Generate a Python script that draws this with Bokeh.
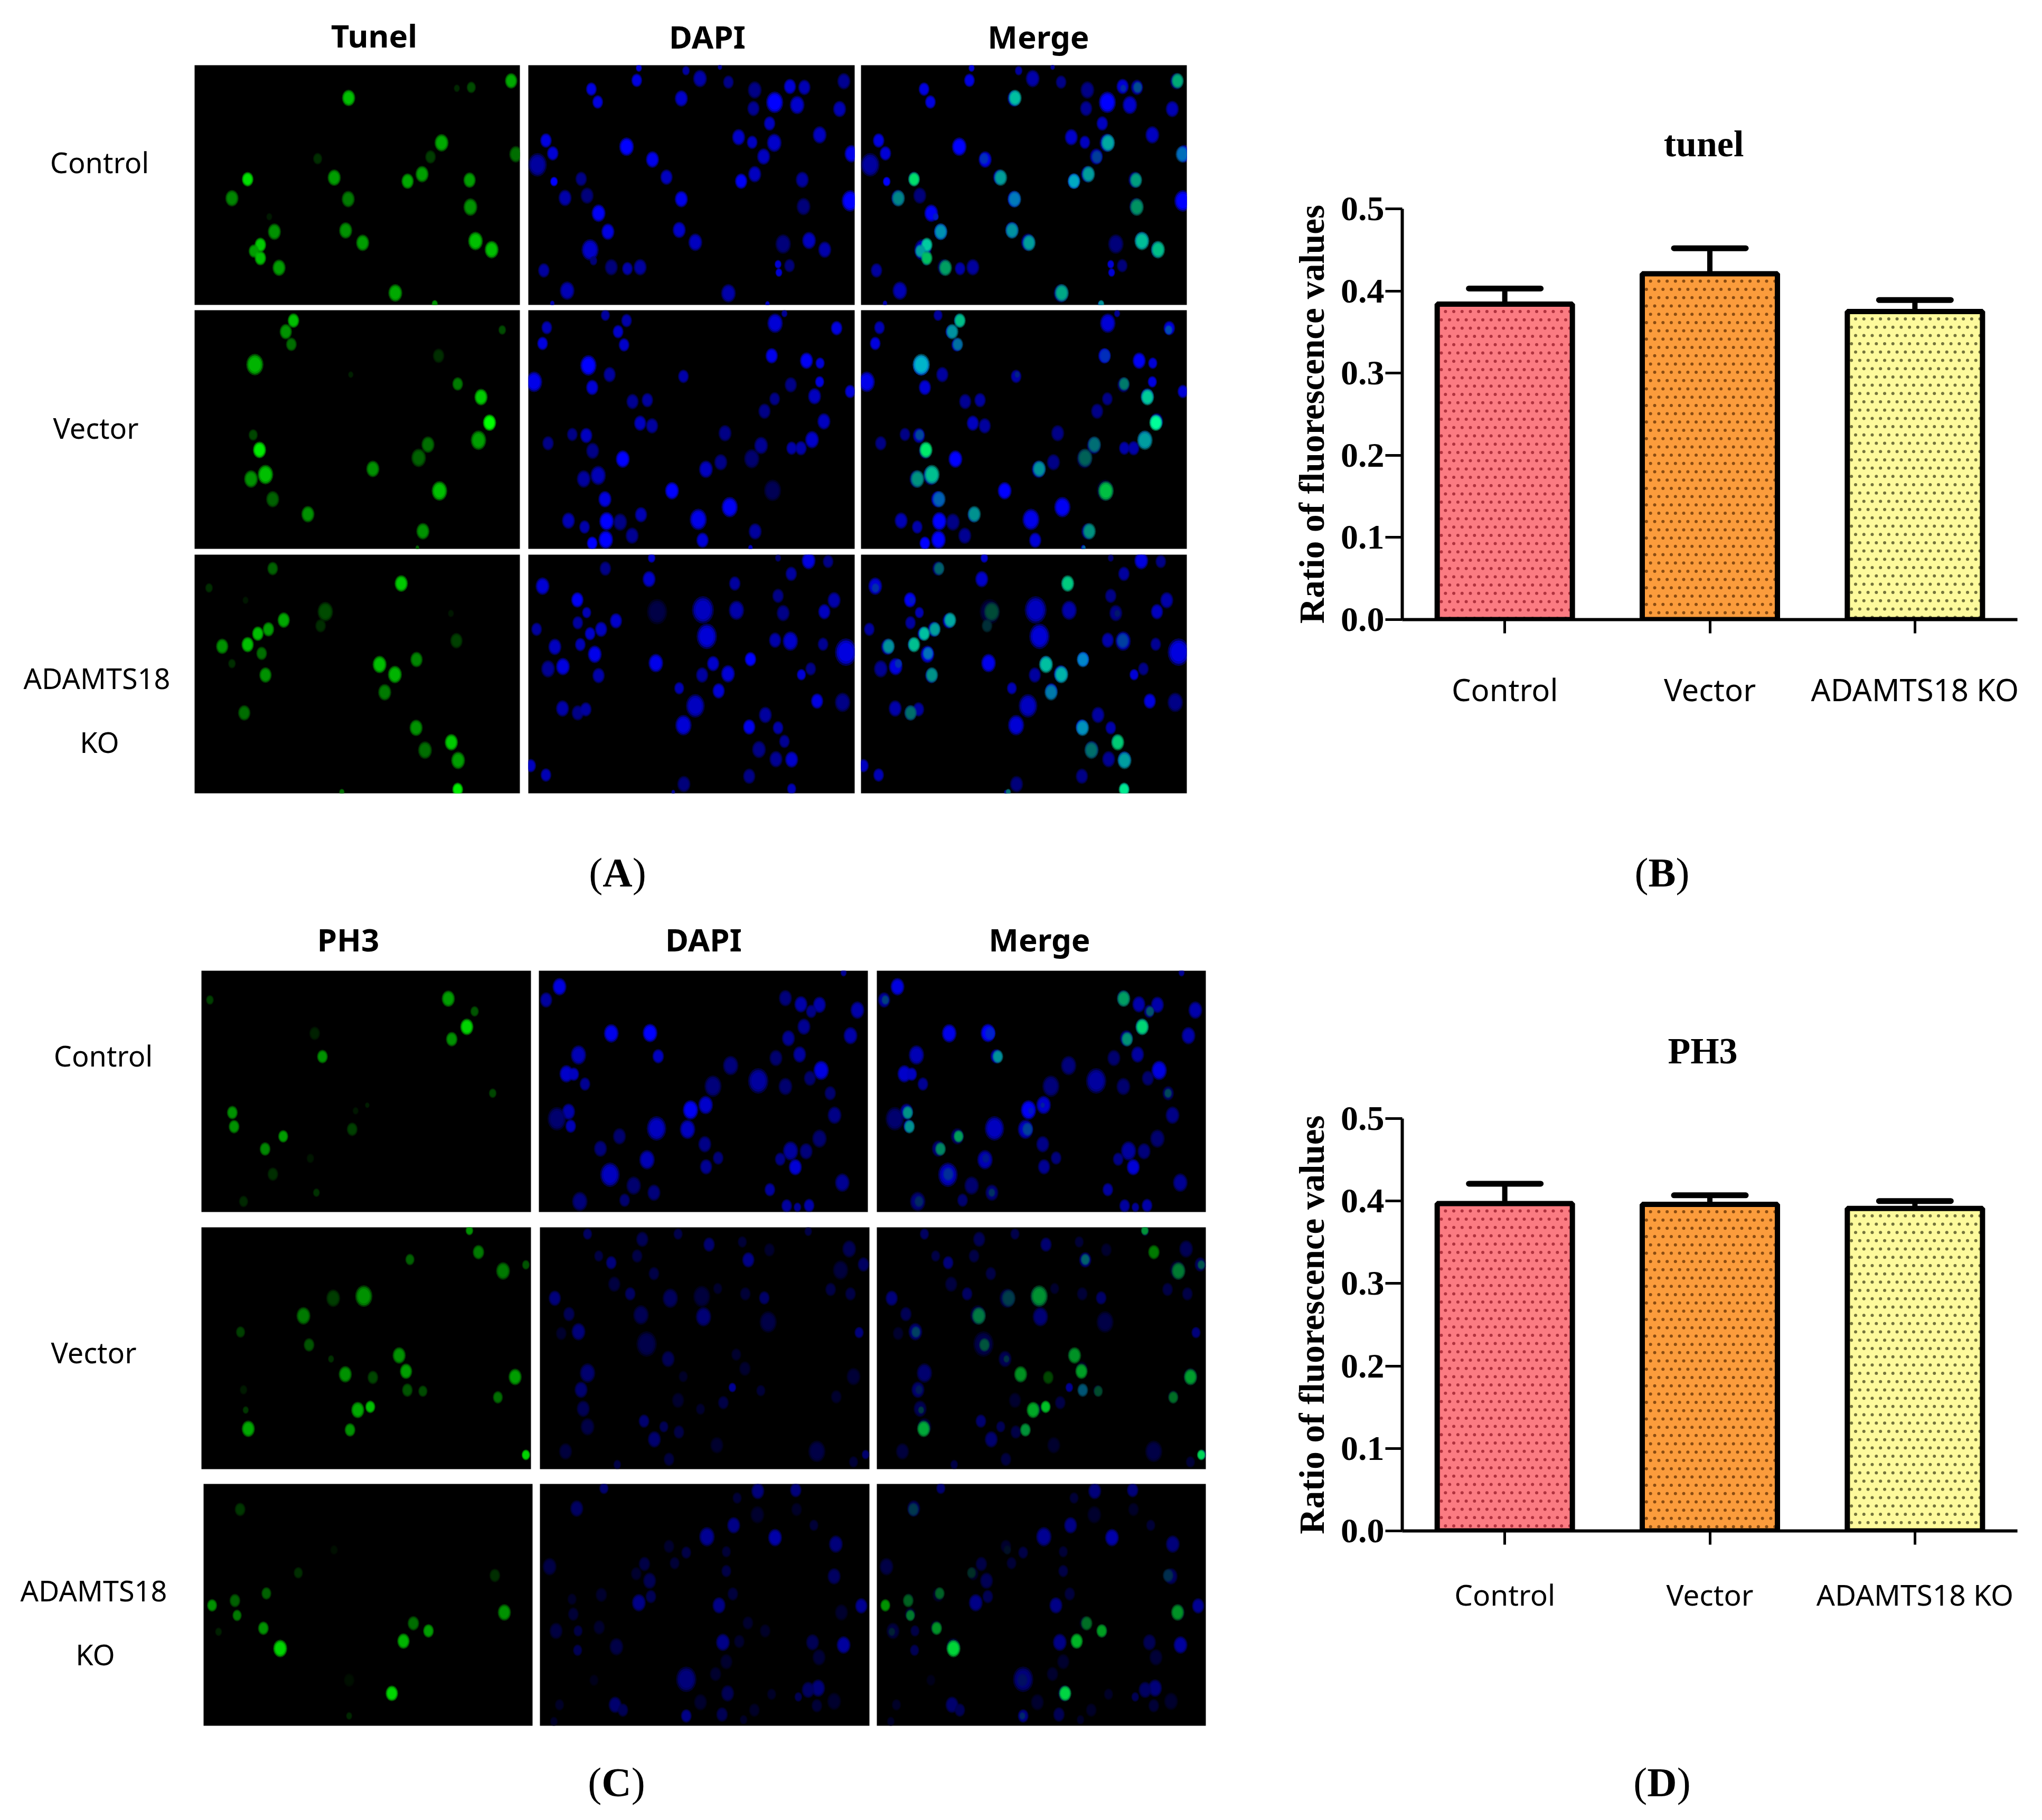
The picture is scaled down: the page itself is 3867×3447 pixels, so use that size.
from bokeh.plotting import figure
from bokeh.models import ColumnDataSource, FixedTicker, Range1d
from bokeh.layouts import row, column
from bokeh.core.properties import value
from bokeh.embed import file_html
from bokeh.resources import INLINE
import numpy as np

# bar chart values
groups = ["Control", "Vector", "ADAMTS18 KO"]
tunel_mean = [0.384, 0.421, 0.375]
tunel_upper = [0.403, 0.452, 0.389]
ph3_mean = [0.397, 0.396, 0.391]
ph3_upper = [0.421, 0.407, 0.400]
bar_colors = ["#fb7b82", "#fb9c3c", "#fdfa9c"]
dot_colors = ["#b0323e", "#8a4c12", "#74743c"]

# nuclei seen in each micrograph: (x, y, height, brightness), in crop units
tunel_control = [(373,195,85,.7),(756,98,80,.6),(662,135,60,.22),(628,140,40,.1),(592,450,90,.6),(566,530,70,.17),(767,515,85,.35),(300,540,60,.12),(135,657,75,.85),(339,648,85,.55),(546,628,85,.55),(512,668,80,.6),(658,662,80,.55),(98,765,85,.45),(372,770,85,.4),(660,815,90,.5),(198,955,85,.5),(366,948,85,.5),(406,1018,85,.55),(672,1008,95,.7),(710,1057,90,.7),(165,1030,75,.75),(150,1065,70,.55),(165,1105,75,.7),(209,1160,85,.55),(483,1303,90,.6),(576,1365,40,.5),(186,870,40,.06)]
tunel_control_dapi = [(1057,25,40,.8),(1168,40,50,.55),(1248,20,30,.5),(1052,95,70,.85),(1201,85,90,.6),(1268,105,70,.45),(945,145,70,.85),(1330,150,90,.45),(1413,130,80,.8),(1447,135,80,.65),(1540,100,85,.5),(960,218,70,.85),(1157,198,85,.75),(1377,220,110,1),(1430,235,95,.75),(1327,255,80,.5),(1530,258,85,.65),(1365,340,75,.7),(1483,405,90,.7),(1292,418,85,.75),(838,437,75,.85),(1324,447,70,.7),(1376,450,95,.75),(1028,472,95,1),(854,510,75,.8),(1558,512,90,.9),(1351,528,85,.7),(1089,545,85,.9),(818,575,120,.55),(1330,628,85,.7),(1122,645,80,.7),(1442,660,85,.55),(921,655,75,.45),(857,670,50,1),(1298,668,80,.95),(883,763,85,.6),(935,750,85,.4),(1157,770,85,.9),(1445,812,90,.4),(1555,780,110,1),(962,850,90,.95),(984,955,85,.85),(1152,945,85,.75),(1190,1015,90,.7),(1458,1005,90,.7),(1397,1025,100,.4),(1495,1057,85,.6),(942,1058,110,.75),(950,1120,50,.4),(992,1157,85,.4),(1030,1165,70,.6),(1060,1157,85,.55),(1385,1140,45,.8),(1412,1148,70,.4),(1387,1187,45,.8),(833,1175,75,.55),(888,1290,95,.65),(1268,1305,95,.6),(1360,1365,30,.7),(853,1362,30,.6)]
tunel_vector = [(243,65,75,.7),(225,128,80,.5),(238,200,70,.35),(735,118,50,.22),(152,315,110,.65),(585,265,75,.12),(378,372,35,.08),(630,425,70,.4),(685,500,85,.75),(705,645,85,1),(148,715,60,.2),(679,745,100,.55),(163,800,85,.9),(560,770,85,.35),(538,845,95,.3),(430,908,85,.5),(177,940,100,.7),(143,965,90,.5),(194,1080,85,.3),(587,1033,100,.7),(277,1165,85,.5),(548,1262,85,.5),(535,1355,25,.3)]
tunel_vector_dapi = [(978,35,60,.55),(1400,25,40,.5),(1028,65,70,.6),(1378,80,100,.8),(840,105,70,.65),(1523,108,75,.85),(1008,128,70,.75),(830,195,70,.85),(1022,203,70,.75),(1370,265,80,.9),(938,320,105,1),(1452,293,85,.95),(1484,307,60,.8),(988,372,80,.55),(1162,382,70,.6),(810,413,105,.9),(1483,413,60,.85),(1415,430,80,.45),(947,445,80,.8),(1555,468,70,.8),(1471,495,85,.7),(1377,510,70,.45),(1042,525,80,.5),(1077,517,75,.55),(1353,580,80,.45),(1493,638,85,.7),(1060,648,80,.7),(1088,663,80,.55),(1260,705,85,.45),(900,712,70,.45),(933,718,80,.7),(843,762,75,.45),(1465,742,90,.75),(1345,775,90,.5),(1417,790,70,.6),(1439,790,75,.6),(948,805,85,.45),(1323,850,100,.35),(1019,852,90,1),(1250,870,85,.45),(1215,910,90,.7),(961,945,100,.65),(927,965,90,.55),(1372,1030,110,.25),(1135,1032,90,1),(977,1080,85,.85),(1271,1125,105,.95),(1197,1195,110,.9),(1062,1168,80,.65),(891,1202,85,.65),(981,1205,95,1),(1013,1210,90,.45),(929,1238,70,.6),(1041,1287,85,.5),(1331,1263,85,.55),(979,1310,95,1),(1207,1313,80,.8),(947,1330,70,1),(1320,1355,30,.7)]
tunel_ko = [(194,85,70,.3),(497,170,85,.75),(44,195,50,.12),(130,265,40,.05),(318,330,100,.22),(220,378,80,.6),(307,410,70,.12),(184,430,75,.55),(159,455,75,.7),(135,517,80,.7),(75,527,80,.5),(627,495,80,.18),(168,567,70,.35),(98,625,50,.12),(533,602,80,.45),(446,630,90,.7),(177,690,80,.5),(482,687,90,.65),(458,788,85,.4),(127,905,80,.35),(532,990,85,.5),(553,1117,90,.35),(615,1072,85,.75),(631,1175,90,.55),(630,1340,70,.9),(357,1355,35,.35),(614,340,40,.05)]
tunel_ko_dapi = [(1087,25,50,.75),(1457,40,90,.85),(1503,45,70,.45),(1385,25,40,.35),(978,85,75,.45),(1416,115,75,.55),(1081,145,85,.75),(1283,170,75,.55),(830,185,90,.8),(912,263,80,.95),(1385,240,75,.45),(1517,265,85,.6),(1208,320,140,.7),(1100,330,130,.2),(1287,322,100,.6),(1397,338,85,.45),(1494,330,80,.7),(934,335,60,.65),(1003,382,80,.75),(913,393,70,.55),(816,430,70,.55),(968,430,80,.7),(942,455,70,.75),(1217,470,130,.8),(1378,492,80,.6),(1414,497,100,.75),(1491,515,70,.5),(859,530,85,.7),(919,517,70,.65),(953,572,90,.9),(1545,560,140,.85),(1097,622,95,.9),(1320,600,75,1),(1232,625,80,.75),(878,642,90,.85),(843,655,90,.5),(1267,683,90,.8),(1462,655,70,.45),(1440,688,60,.8),(1206,690,80,.55),(962,693,80,.6),(1152,765,65,.65),(1245,780,80,.8),(1190,865,120,.7),(1537,845,100,.45),(1477,838,80,.85),(877,880,85,.6),(913,905,80,.45),(932,885,75,.55),(1355,917,85,.55),(1162,975,105,.8),(1317,985,80,.9),(1385,990,70,.6),(1400,1067,70,.5),(1340,1113,90,.45),(1380,1168,85,.5),(1417,1170,85,.75),(802,1205,70,.7),(838,1258,70,.65),(1317,1265,80,.45),(1163,1310,85,.4),(1417,1337,60,.65),(1138,1355,25,.5)]
ph3_control = [(27,190,50,.18),(580,183,85,.55),(641,255,55,.25),(623,343,85,.8),(588,413,75,.5),(270,380,70,.08),(288,512,70,.5),(683,720,50,.2),(392,788,30,.07),(79,830,70,.5),(83,910,70,.5),(357,925,70,.18),(197,965,65,.55),(155,1037,70,.45),(173,1180,70,.12),(260,1090,50,.05),(274,1285,45,.13),(105,1335,60,.1),(365,820,40,.05)]
ph3_control_dapi = [(1497,35,40,.5),(838,115,90,.85),(807,190,80,.55),(1362,180,85,.4),(1398,215,85,.6),(1441,218,85,.6),(1422,255,70,.45),(1529,248,90,.6),(1405,342,85,.5),(958,380,95,.9),(1048,378,95,1),(1369,408,85,.5),(1513,393,90,.6),(882,503,100,.65),(1067,510,75,.7),(1395,500,85,.55),(1340,520,85,.35),(1235,563,100,.4),(1445,590,100,.85),(854,610,90,.75),(871,612,70,.7),(1299,650,130,.55),(1419,635,80,.35),(897,668,70,.5),(1194,680,110,.4),(1362,682,90,.35),(1466,720,75,.35),(1177,787,95,.75),(1142,815,100,.95),(859,825,85,.6),(832,865,120,.35),(1476,845,90,.45),(864,907,70,.65),(1063,920,125,.7),(1135,925,100,.7),(977,965,85,.35),(1441,978,95,.35),(1175,1010,85,.45),(933,1035,85,.4),(1374,1048,100,.55),(1410,1050,85,.4),(1041,1098,100,.65),(1206,1088,70,.4),(1350,1095,70,.45),(1385,1140,85,.8),(1178,1138,80,.5),(955,1183,125,.7),(1010,1245,95,.35),(1494,1228,95,.5),(1057,1285,85,.4),(1326,1268,70,.55),(885,1335,100,.4),(989,1328,70,.35),(1365,1360,70,.55),(1390,1368,50,.5),(1417,1358,70,.6)]
ph3_vector = [(629,45,50,.5),(650,168,75,.4),(491,210,60,.3),(760,240,50,.25),(707,275,90,.4),(384,418,110,.5),(313,430,90,.17),(244,530,90,.4),(98,622,60,.18),(257,695,70,.25),(308,775,40,.13),(466,755,85,.5),(341,862,85,.5),(482,845,80,.55),(405,880,70,.2),(735,877,85,.55),(485,952,70,.25),(521,958,60,.22),(695,993,65,.35),(370,1065,85,.6),(399,1047,65,.7),(110,1065,40,.15),(116,1172,85,.6),(352,1178,70,.5),(760,1320,55,.8),(105,950,50,.06)]
ph3_vector_dapi = [(903,65,60,.3),(1030,95,80,.25),(1113,65,60,.22),(1185,125,75,.35),(1262,110,60,.15),(1415,50,50,.2),(1510,150,90,.25),(929,190,60,.2),(958,228,70,.4),(1018,190,70,.2),(1276,212,80,.45),(1325,155,70,.12),(1543,238,75,.3),(1490,270,100,.17),(1057,290,70,.2),(965,350,80,.18),(1205,375,60,.12),(827,430,80,.4),(1002,405,70,.3),(1095,430,100,.28),(1168,420,110,.17),(1269,405,70,.15),(1313,428,70,.32),(1467,380,70,.2),(1513,405,70,.2),(860,520,75,.25),(1027,525,100,.25),(1172,535,100,.38),(1322,565,110,.2),(882,620,90,.4),(842,630,70,.12),(1533,625,60,.4),(1040,690,130,.22),(1090,775,85,.25),(1248,750,65,.12),(903,855,100,.35),(1268,830,75,.12),(1125,875,60,.1),(1520,875,90,.15),(888,950,85,.35),(1239,937,50,.5),(1305,955,60,.15),(1480,990,70,.12),(1113,1010,80,.12),(893,1058,85,.25),(1218,1023,70,.2),(1165,1060,60,.12),(1034,1128,70,.35),(903,1160,90,.2),(1080,1160,60,.25),(1115,1190,70,.2),(1058,1232,85,.35),(1203,1265,85,.12),(852,1300,85,.17),(1435,1300,110,.2),(1092,1345,70,.18),(1548,1318,50,.35),(972,1375,50,.2),(1520,1360,60,.15)]
ph3_ko = [(97,160,70,.15),(315,390,50,.03),(232,520,60,.12),(688,535,70,.12),(158,637,65,.3),(85,678,70,.3),(32,705,65,.5),(90,762,60,.4),(710,745,85,.5),(499,807,75,.35),(151,835,70,.5),(534,850,70,.55),(47,855,45,.08),(476,908,80,.65),(190,950,90,.8),(449,1205,80,.8),(350,1333,40,.1),(350,1130,70,.03)]
ph3_ko_dapi = [(941,40,60,.35),(1298,55,85,.4),(1386,50,75,.4),(878,155,85,.3),(1250,95,60,.15),(1297,190,90,.12),(1388,160,70,.1),(1242,250,85,.45),(1428,250,60,.15),(1180,315,100,.5),(1338,320,90,.6),(1479,357,90,.4),(1092,370,70,.12),(1132,405,65,.2),(1225,400,60,.15),(1105,465,65,.15),(1035,470,75,.2),(815,485,90,.2),(1225,510,65,.2),(1016,525,70,.12),(1047,565,85,.25),(1475,540,85,.3),(1240,640,70,.17),(935,645,75,.12),(1050,655,70,.25),(1022,690,90,.45),(1208,705,85,.45),(1538,708,80,.5),(867,670,60,.1),(1492,745,85,.12),(870,755,70,.15),(1275,805,70,.12),(830,850,85,.18),(881,850,60,.2),(930,830,75,.12),(1315,850,70,.1),(1217,915,90,.45),(1255,910,70,.12),(1425,915,85,.25),(1497,930,90,.55),(970,940,90,.2),(880,960,60,.25),(1440,1000,85,.15),(1225,1025,80,.12),(1200,1095,75,.12),(1132,1125,130,.4),(918,1130,60,.06),(1438,1175,90,.4),(1415,1185,85,.3),(1228,1205,85,.25),(1330,1210,60,.1),(1392,1225,50,.25),(1475,1250,90,.12),(1165,1255,85,.12),(1435,1275,70,.15),(967,1270,85,.35),(985,1300,70,.25),(838,1270,60,.1),(1290,1300,70,.1),(1132,1333,70,.45),(1215,1325,75,.25),(1265,1355,50,.1),(825,1365,50,.1)]

# (green, dapi, crop x, crop y, crop w, top, bottom, col edges)
rows_of_panels = [
    (tunel_control, tunel_control_dapi, 360, 120, 1260, 123, 577, (368, 984, 1000, 1618, 1630, 2247)),
    (tunel_vector, tunel_vector_dapi, 360, 585, 1260, 587, 1039, (368, 984, 1000, 1618, 1630, 2247)),
    (tunel_ko, tunel_ko_dapi, 360, 1048, 1260, 1050, 1502, (368, 984, 1000, 1618, 1630, 2247)),
    (ph3_control, ph3_control_dapi, 375, 1830, 1280, 1838, 2295, (381, 1005, 1020, 1643, 1660, 2283)),
    (ph3_vector, ph3_vector_dapi, 375, 2315, 1280, 2324, 2782, (381, 1005, 1022, 1646, 1660, 2283)),
    (ph3_ko, ph3_ko_dapi, 375, 2805, 1280, 2810, 3268, (385, 1008, 1022, 1646, 1660, 2283)),
]

col_titles = ["Tunel", "DAPI", "Merge", "PH3", "DAPI", "Merge"]
col_title_x = [708, 1339, 1966, 659, 1332, 1968]
col_title_y = [66, 68, 68, 1778, 1778, 1778]
row_labels = ["Control", "Vector", "ADAMTS18", "KO", "Control", "Vector", "ADAMTS18", "KO"]
row_label_x = [188, 181, 183, 188, 195, 177, 177, 180]
row_label_y = [306, 809, 1283, 1404, 1998, 2560, 3011, 3132]

# the frame of both bar charts, in page pixels; the column lines up its children's frames
chart_left, chart_right = 2655, 3820
column_left, column_right = 2392, 3859


def hex_color(r, g, b):
    return "#%02x%02x%02x" % (int(r ** .8 * 255), int(g ** .8 * 255), int(b ** .8 * 255))


cell_xs, cell_ys, cell_fill, cell_alpha = [], [], [], []
angle = np.linspace(0, 2 * np.pi, 20, endpoint=False)


def add_cell(cx, cy, h, color, box):
    # three shells give the soft edge; np.clip keeps them inside the panel
    for k, a in [(1.12, 0.4), (0.95, 0.7), (0.75, 1.0)]:
        r = h / 6 * k
        cell_xs.append(np.clip(cx + 0.8 * r * np.cos(angle), box[0], box[1]).tolist())
        cell_ys.append(np.clip(cy + r * np.sin(angle), box[2], box[3]).tolist())
        cell_fill.append(color)
        cell_alpha.append(a)


panel_left, panel_right, panel_top, panel_bottom = [], [], [], []
for green, dapi, cx0, cy0, cw, top, bot, e in rows_of_panels:
    sx = cw / 1568
    for i in range(3):
        panel_left.append(e[2 * i])
        panel_right.append(e[2 * i + 1])
        panel_top.append(top)
        panel_bottom.append(bot)
    g = [(cx0 + x * sx - e[0], cy0 + y / 3 - top, h, v) for x, y, h, v in green]
    b = [(cx0 + x * sx - e[2], cy0 + y / 3 - top, h, v) for x, y, h, v in dapi]
    for x, y, h, v in g:
        add_cell(e[0] + x, top + y, h, hex_color(0, v, 0), (e[0], e[1], top, bot))
    for x, y, h, v in b:
        add_cell(e[2] + x, top + y, h, hex_color(0, 0, v), (e[2], e[3], top, bot))
        add_cell(e[4] + x, top + y, h, hex_color(0, 0, v), (e[4], e[5], top, bot))
    # merge: green adds onto whichever blue nucleus lies under it
    for x, y, h, v in g:
        blue = 0
        dist = [np.hypot(x - q[0], y - q[1]) for q in b]
        if min(dist) < 40:
            blue = b[int(np.argmin(dist))][3] * 0.75
        add_cell(e[4] + x, top + y, h, hex_color(0, v, blue), (e[4], e[5], top, bot))

p = figure(width=2392, height=3439, x_range=Range1d(0, 2392), y_range=Range1d(3439, 0),
           toolbar_location=None, output_backend="svg", min_border=0)
p.axis.visible = False
p.grid.visible = False
p.outline_line_color = None
p.quad(left=panel_left, right=panel_right, top=panel_top, bottom=panel_bottom, fill_color="black", line_color=None)
p.patches("xs", "ys", fill_color="fill", fill_alpha="alpha", line_color=None,
          source=ColumnDataSource(dict(xs=cell_xs, ys=cell_ys, fill=cell_fill, alpha=cell_alpha)))
p.text(col_title_x, col_title_y, text=col_titles, text_font=value("Noto Sans"), text_font_size="60px",
       text_font_style="bold", text_align="center", text_baseline="middle", text_color="black")
p.text(row_label_x, row_label_y, text=row_labels, text_font=value("Noto Sans"), text_font_size="54px",
       text_align="center", text_baseline="middle", text_color="black")


def panel_letter(fig, letter, cx, cy):
    fs = 78
    wide = {"A": .722, "B": .667, "C": .722, "D": .722}[letter]
    x0 = cx - (.666 + wide) * fs / 2
    parts = [("(", x0, "normal"), (letter, x0 + .333 * fs, "bold"), (")", x0 + (.333 + wide) * fs, "normal")]
    for txt, x, style in parts:
        fig.text([x], [cy], text=[txt], text_font=value("Liberation Serif"), text_font_size="%dpx" % fs,
                 text_font_style=style, text_baseline="middle", text_color="black")


panel_letter(p, "A", 1169, 1652)
panel_letter(p, "C", 1167, 3375)


def text_strip(y0, y1):
    # blank band of the right column, used for chart titles and panel letters
    s = figure(width=column_right - column_left, height=y1 - y0, x_range=Range1d(chart_left, chart_right),
               y_range=Range1d(y1, y0), toolbar_location=None, output_backend="svg", min_border_top=0,
               min_border_bottom=0, min_border_left=chart_left - column_left, min_border_right=column_right - chart_right)
    s.axis.visible = False
    s.grid.visible = False
    s.outline_line_color = None
    return s


def chart_title(s, title, x, y):
    s.text([x], [y], text=[title], text_font=value("Liberation Serif"), text_font_style="bold",
           text_font_size="70px", text_align="center", text_baseline="middle", text_color="black")


def bar_chart(means, uppers, top_y, bottom_y, fig_top, fig_bottom, tick_px, standoff):
    ch = figure(width=column_right - column_left, height=fig_bottom - fig_top, x_range=Range1d(0, 3),
                y_range=Range1d(0, 0.5), toolbar_location=None, output_backend="svg",
                min_border_left=chart_left - column_left, min_border_right=column_right - chart_right,
                min_border_top=top_y - fig_top, min_border_bottom=fig_bottom - bottom_y)
    ch.grid.visible = False
    ch.outline_line_color = None
    centers = [0.5, 1.5, 2.5]
    px_x = (chart_right - chart_left) / 3
    px_y = (bottom_y - top_y) / 0.5
    bar_w = 256 / px_x
    ch.vbar(x=centers, width=bar_w, top=means, bottom=0, fill_color=bar_colors, line_color=None)

    # the dotted fill: staggered rows, spaced as in the source image
    dx, dy = 15.7 / px_x, 15.7 / px_y
    dot_x, dot_y, dot_c = [], [], []
    for c, m, col in zip(centers, means, dot_colors):
        ys = np.arange(m - 14 / px_y, 0, -dy)
        for k, yy in enumerate(ys):
            xs = np.arange(c - bar_w / 2 + (dx / 2 if k % 2 else 0), c + bar_w / 2, dx)
            dot_x.extend(xs.tolist())
            dot_y.extend([float(yy)] * len(xs))
            dot_c.extend([col] * len(xs))
    ch.scatter(dot_x, dot_y, size=6, color=dot_c, line_color=None)

    ch.vbar(x=centers, width=bar_w, top=means, bottom=0, fill_color=None, line_color="black", line_width=10)
    ch.segment(centers, means, centers, uppers, line_color="black", line_width=10)
    cap = 68 / px_x
    ch.segment([c - cap for c in centers], uppers, [c + cap for c in centers], uppers,
               line_color="black", line_width=11, line_cap="round")

    ch.xaxis.ticker = FixedTicker(ticks=centers)
    ch.xaxis.major_label_overrides = dict(zip(centers, groups))
    ch.xaxis.major_label_text_font = "Noto Sans"
    ch.xaxis.major_label_text_font_size = tick_px
    ch.xaxis.major_label_text_color = "black"
    ch.xaxis.major_label_standoff = standoff
    ch.xaxis.major_tick_out = 26
    ch.xaxis.major_tick_in = 0
    ch.xaxis.major_tick_line_width = 5
    ch.xaxis.minor_tick_line_color = None
    ch.xaxis.axis_line_width = 6

    ch.yaxis.ticker = FixedTicker(ticks=[0, 0.1, 0.2, 0.3, 0.4, 0.5])
    ch.yaxis.major_label_overrides = {0: "0.0", 0.1: "0.1", 0.2: "0.2", 0.3: "0.3", 0.4: "0.4", 0.5: "0.5"}
    ch.yaxis.major_label_text_font = "Liberation Serif"
    ch.yaxis.major_label_text_font_style = "bold"
    ch.yaxis.major_label_text_font_size = "66px"
    ch.yaxis.major_label_text_color = "black"
    ch.yaxis.major_label_standoff = 2
    ch.yaxis.major_tick_out = 32
    ch.yaxis.major_tick_in = 0
    ch.yaxis.major_tick_line_width = 5
    ch.yaxis.minor_tick_line_color = None
    ch.yaxis.axis_line_width = 6
    ch.yaxis.axis_label = "Ratio of fluorescence values"
    ch.yaxis.axis_label_text_font = "Liberation Serif"
    ch.yaxis.axis_label_text_font_style = "bold"
    ch.yaxis.axis_label_text_font_size = "67px"
    ch.yaxis.axis_label_text_color = "black"
    ch.yaxis.axis_label_standoff = 15
    return ch


strip_b_top = text_strip(0, 340)
chart_title(strip_b_top, "tunel", 3226, 272)
chart_b = bar_chart(tunel_mean, tunel_upper, 395, 1173, 340, 1500, "58px", 66)
strip_b_bot = text_strip(1500, 1712)
panel_letter(strip_b_bot, "B", 3147, 1652)

strip_d_top = text_strip(1712, 2060)
chart_title(strip_d_top, "PH3", 3224, 1990)
chart_d = bar_chart(ph3_mean, ph3_upper, 2118, 2899, 2060, 3230, "55px", 56)
strip_d_bot = text_strip(3230, 3439)
panel_letter(strip_d_bot, "D", 3147, 3375)

page = row(p, column(strip_b_top, chart_b, strip_b_bot, strip_d_top, chart_d, strip_d_bot, spacing=0), spacing=0)
open("out.html", "w").write(file_html(page, INLINE))
